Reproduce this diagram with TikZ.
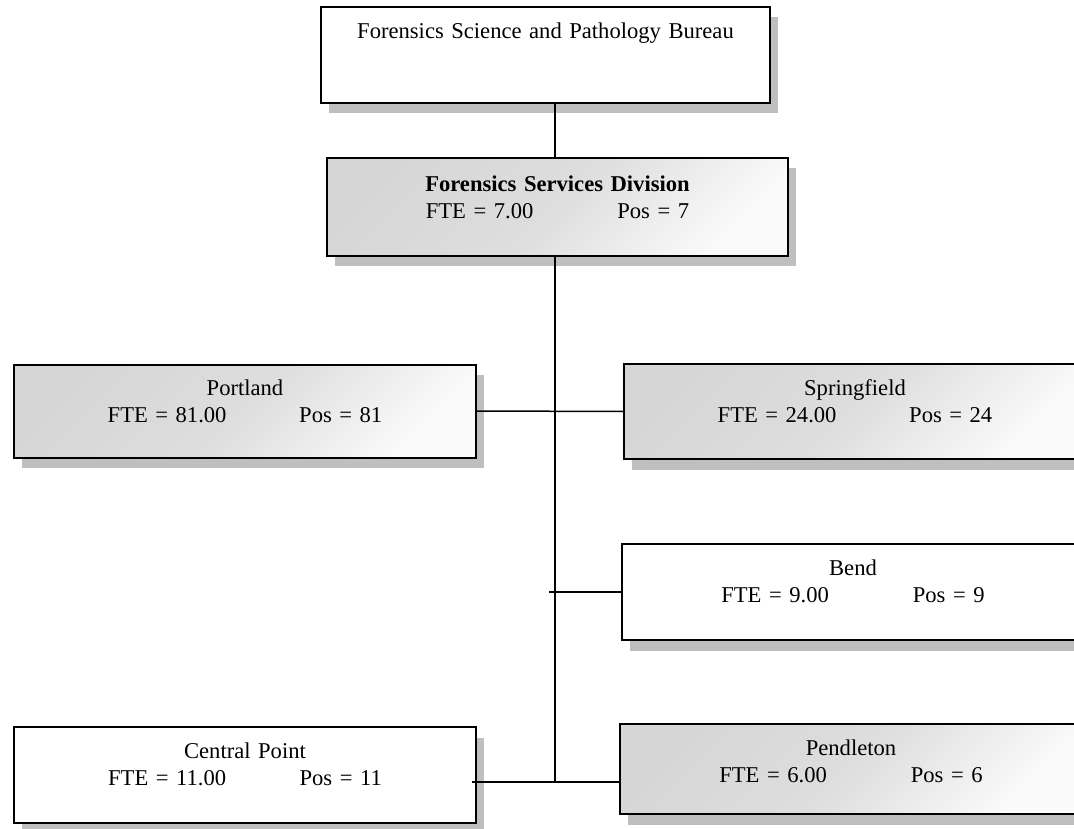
\documentclass[tikz,border=0pt]{standalone}
\usepackage{fontspec}
\setmainfont{Liberation Serif}
\usetikzlibrary{shadows}
\tikzset{
  unit/.style={draw, line width=2pt, fill=white, inner sep=0pt,
    minimum width=462pt, minimum height=95pt,
    general shadow={fill=black!25, shadow xshift=8pt, shadow yshift=-10.5pt}},
  shaded unit/.style={unit, top color=black!16, bottom color=black!2,
    middle color=black!13, shading angle=45},
  unit text/.style={anchor=base, text width=450pt, align=center, inner sep=0pt,
    font=\fontsize{22.6}{27}\selectfont},
  link/.style={line width=1.5pt}
}
\newcommand\ftepos[2]{\makebox[191.5pt][l]{FTE = #1}Pos = #2}

\begin{document}
\begin{tikzpicture}[x=1pt, y=-1pt]
    \clip (0,0) rectangle (1074,829);
    \coordinate (joint) at (555,782);
    \coordinate (bendtap) at (549,592);

    \node[unit, minimum width=449pt, minimum height=96pt] (Bureau) at (545.5,55) {};
    \node[shaded unit, minimum width=461pt, minimum height=98pt] (Division) at (557.5,207) {};
    \node[shaded unit, minimum height=93pt] (Portland) at (245,411) {};
    \node[shaded unit] (Springfield) at (855,411.5) {};
    \node[unit, minimum height=96pt] (Bend) at (853,592) {};
    \node[unit, minimum height=96pt] (Central) at (245,775) {};
    \node[shaded unit, minimum height=90pt] (Pendleton) at (851,769) {};

    \node[unit text] (BureauT) at ([yshift=-33pt]Bureau.north) {Forensics Science and Pathology Bureau};
    \node[unit text] (DivisionT) at ([yshift=-34.5pt]Division.north) {\textbf{Forensics Services Division}\\ \ftepos{7.00}{7}};
    \node[unit text] (PortlandT) at ([yshift=-32pt]Portland.north) {Portland\\ \ftepos{81.00}{81}};
    \node[unit text] (SpringfieldT) at ([yshift=-32pt]Springfield.north) {Springfield\\ \ftepos{24.00}{24}};
    \node[unit text] (BendT) at ([yshift=-32pt]Bend.north) {Bend\\ \ftepos{9.00}{9}};
    \node[unit text] (CentralT) at ([yshift=-32pt]Central.north) {Central Point\\ \ftepos{11.00}{11}};
    \node[unit text] (PendletonT) at ([yshift=-32pt]Pendleton.north) {Pendleton\\ \ftepos{6.00}{6}};

    \draw[link] (Bureau.south -| joint) -- (Division.north -| joint);
    \draw[link] (Division.south -| joint) -- (joint);
    \draw[link] (Portland.east) -- (Springfield.west);
    \draw[link] (bendtap) -- (Bend.west);
    \draw[link] ([xshift=-5pt]joint -| Central.east) -- (joint -| Pendleton.west);
\end{tikzpicture}
\end{document}
